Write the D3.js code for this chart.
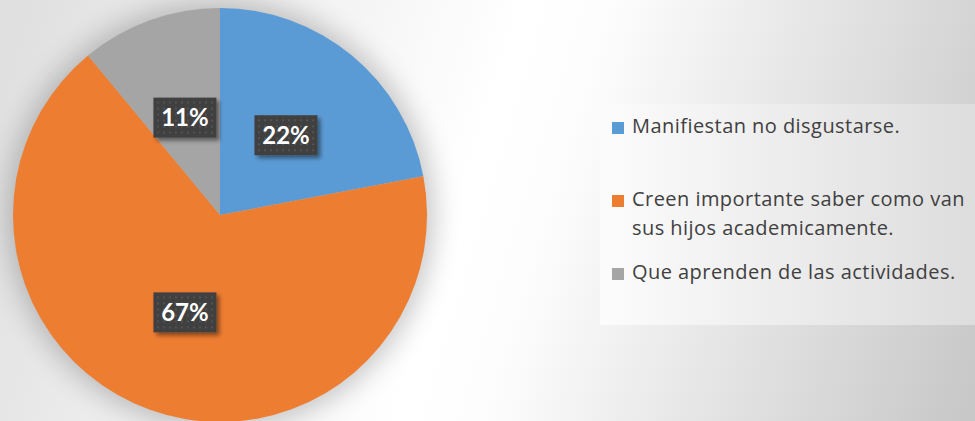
<!DOCTYPE html>
<html>
<head>
<meta charset="utf-8">
<script src="https://cdn.jsdelivr.net/npm/d3@7"></script>
<style>
html,body{margin:0;padding:0;background:#fff;}
svg{display:block;}
</style>
</head>
<body>
<svg id="chart" width="975" height="421"></svg>
<script>
const categories = ["Manifiestan no disgustarse.", "Creen importante saber como van sus hijos academicamente.", "Que aprenden de las actividades."];
const legendLines = [["Manifiestan no disgustarse."], ["Creen importante saber como van", "sus hijos academicamente."], ["Que aprenden de las actividades."]];
const values = [22, 67, 11];
const labels = ["22%", "67%", "11%"];
const colors = ["#5b9bd5", "#ed7d31", "#a5a5a5"];

const W = 975, H = 421;
const cx = 220, cy = 215, R = 207;
const svg = d3.select("#chart");
const defs = svg.append("defs");

// background gradient
const bg = defs.append("linearGradient").attr("id", "bg")
  .attr("gradientUnits", "userSpaceOnUse")
  .attr("x1", 0).attr("y1", 80).attr("x2", 975).attr("y2", 380);
bg.append("stop").attr("offset", "0").attr("stop-color", "#e0e0e0");
bg.append("stop").attr("offset", "0.47").attr("stop-color", "#ffffff");
bg.append("stop").attr("offset", "0.55").attr("stop-color", "#fdfdfd");
bg.append("stop").attr("offset", "1").attr("stop-color", "#c8c8c8");

const lg = defs.append("linearGradient").attr("id", "lg")
  .attr("x1", 0).attr("y1", 0).attr("x2", 1).attr("y2", 0);
lg.append("stop").attr("offset", "0").attr("stop-color", "#fcfcfc");
lg.append("stop").attr("offset", "1").attr("stop-color", "#dddddd");

const blur = defs.append("filter").attr("id", "pieShadow")
  .attr("x", "-30%").attr("y", "-30%").attr("width", "160%").attr("height", "160%");
blur.append("feGaussianBlur").attr("stdDeviation", 14);

const ls = defs.append("filter").attr("id", "labShadow")
  .attr("x", "-30%").attr("y", "-30%").attr("width", "160%").attr("height", "160%");
ls.append("feDropShadow").attr("dx", 3).attr("dy", 3).attr("stdDeviation", 2)
  .attr("flood-color", "#000").attr("flood-opacity", 0.45);

const pat = defs.append("pattern").attr("id", "dots")
  .attr("patternUnits", "userSpaceOnUse").attr("width", 6).attr("height", 6);
pat.append("rect").attr("width", 6).attr("height", 6).attr("fill", "#3f3f3f");
pat.append("circle").attr("cx", 3).attr("cy", 3).attr("r", 1.1).attr("fill", "#565656");

svg.append("rect").attr("width", W).attr("height", H).attr("fill", "url(#bg)");

// legend box
svg.append("rect").attr("x", 600).attr("y", 104).attr("width", 375).attr("height", 221)
  .attr("fill", "url(#lg)");

// pie
const g = svg.append("g").attr("transform", `translate(${cx},${cy})`);
g.append("circle").attr("r", R + 6).attr("fill", "#000").attr("opacity", 0.22)
  .attr("filter", "url(#pieShadow)");

const pie = d3.pie().sort(null).value(d => d);
const arcs = pie(values);
const arc = d3.arc().innerRadius(0).outerRadius(R);

g.selectAll("path.slice").data(arcs).join("path")
  .attr("class", "slice")
  .attr("d", arc)
  .attr("fill", (d, i) => colors[i]);

// data labels
const bw = 63, bh = 40;
const lab = g.selectAll("g.lab").data(arcs).join("g")
  .attr("class", "lab")
  .attr("transform", d => { const c = arc.centroid(d); return `translate(${c[0]},${c[1]})`; });
lab.append("rect")
  .attr("x", -bw / 2).attr("y", -bh / 2).attr("width", bw).attr("height", bh)
  .attr("fill", "url(#dots)").attr("filter", "url(#labShadow)");
lab.append("text")
  .attr("text-anchor", "middle").attr("dy", "0.36em")
  .attr("font-family", "Lato, 'Open Sans', sans-serif")
  .attr("font-weight", "bold").attr("font-size", 24)
  .attr("fill", "#ffffff")
  .text((d, i) => labels[i]);

// legend
const legY = [122, 195, 268];
const leg = svg.append("g");
legendLines.forEach((lines, i) => {
  leg.append("rect").attr("x", 612).attr("y", legY[i]).attr("width", 12).attr("height", 12)
    .attr("fill", colors[i]);
  const t = leg.append("text")
    .attr("font-family", "'Open Sans', sans-serif")
    .attr("font-size", 20).attr("letter-spacing", 0.45).attr("fill", "#404040");
  lines.forEach((ln, j) => {
    t.append("tspan").attr("x", 632).attr("y", legY[i] + 11 + j * 29).text(ln);
  });
});
</script>
</body>
</html>
